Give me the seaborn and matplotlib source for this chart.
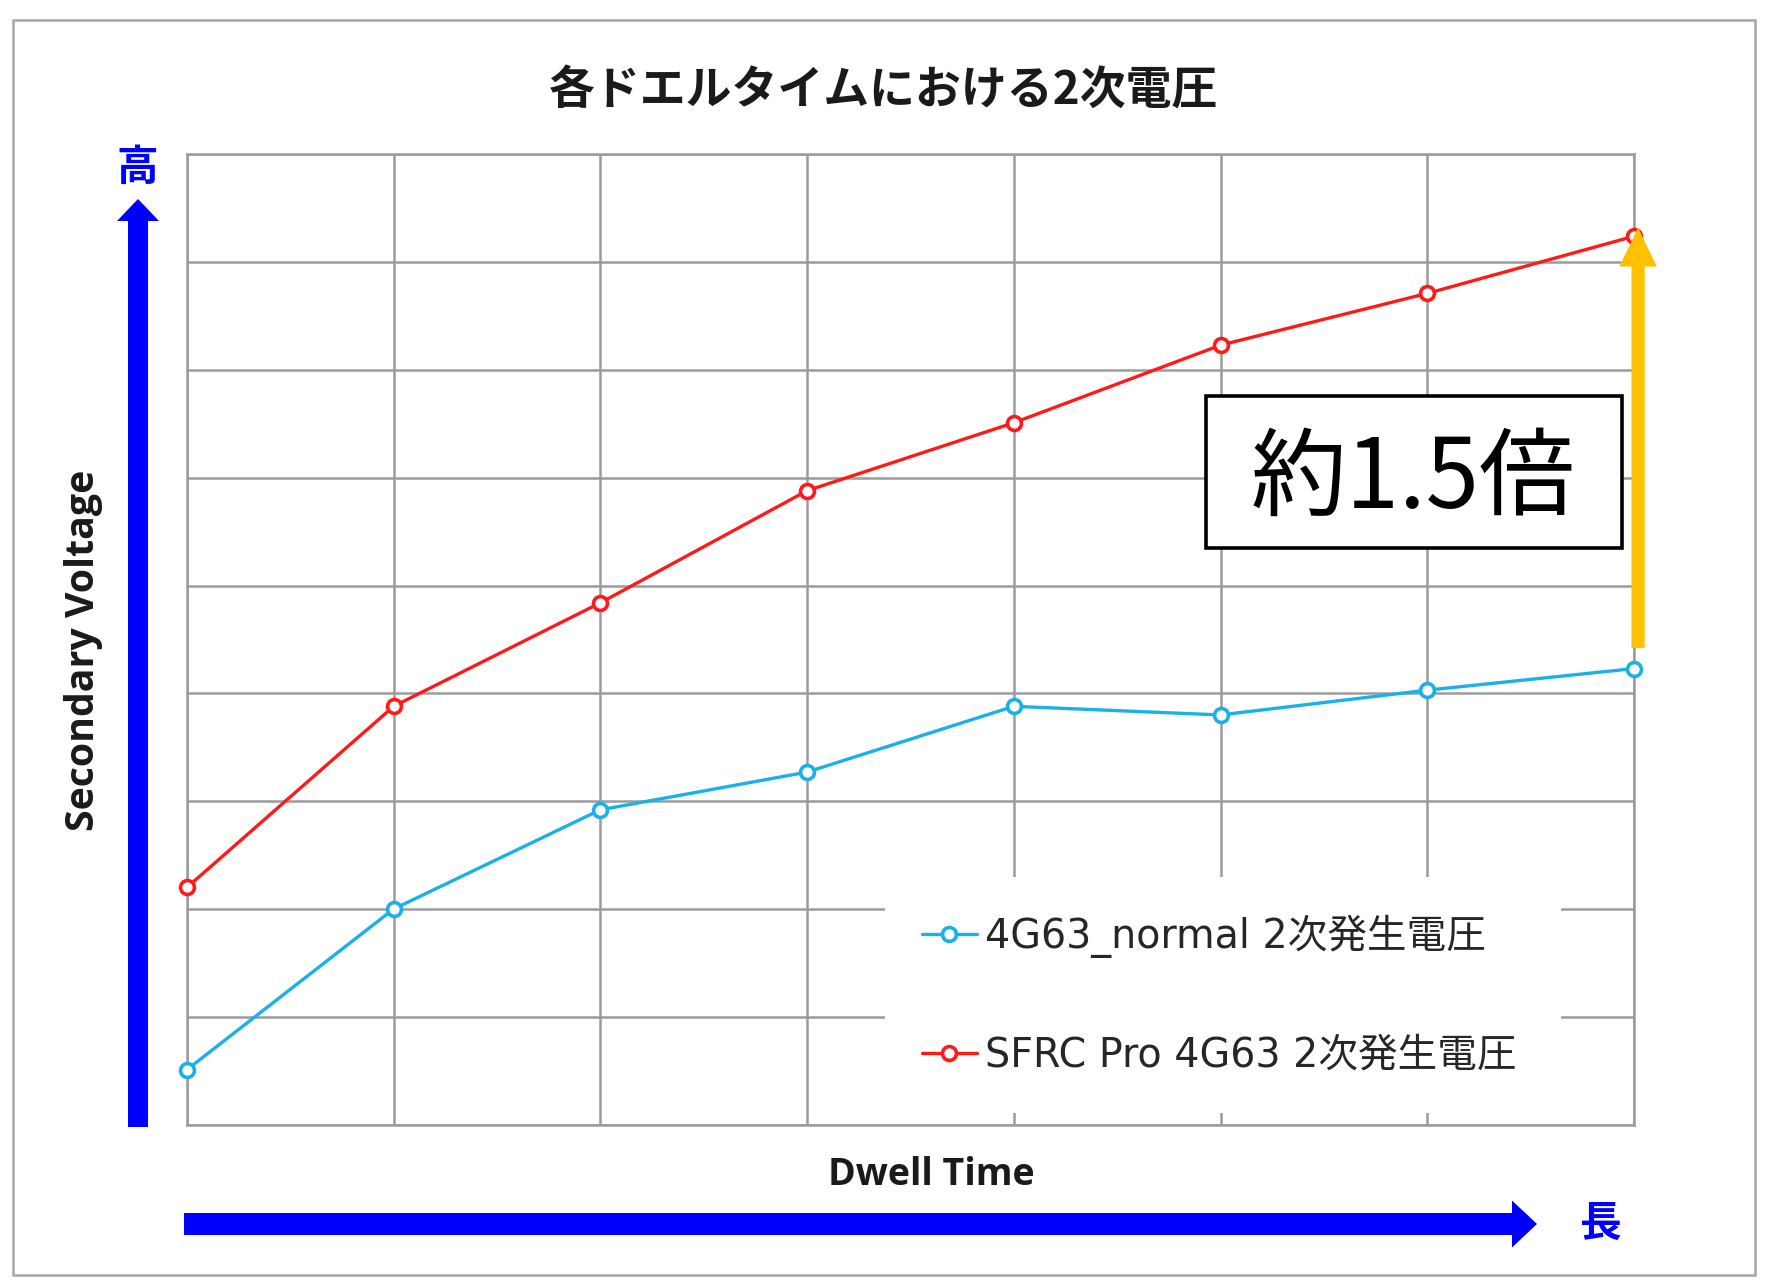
import numpy as np
import pandas as pd
import matplotlib
matplotlib.use("Agg")
import matplotlib.pyplot as plt
import seaborn as sns
from matplotlib.patches import Rectangle, FancyArrow
from matplotlib.font_manager import FontProperties

# ---------------- data ----------------
dwell_steps = [0, 1, 2, 3, 4, 5, 6, 7]
series_names = ["4G63_normal 2次発生電圧", "SFRC Pro 4G63 2次発生電圧"]
normal_voltage = [0.51, 2.00, 2.92, 3.27, 3.88, 3.80, 4.03, 4.23]
sfrc_voltage = [2.20, 3.88, 4.84, 5.88, 6.51, 7.23, 7.71, 8.24]
series_colors = ["#1AB0E8", "#FF1A1A"]

title_text = "各ドエルタイムにおける2次電圧"
x_label = "Dwell Time"
y_label = "Secondary Voltage"
note_text = "約1.5倍"
high_text = "高"
long_text = "長"

df = pd.DataFrame({
    "dwell": dwell_steps * 2,
    "voltage": normal_voltage + sfrc_voltage,
    "series": [series_names[0]] * len(dwell_steps) + [series_names[1]] * len(dwell_steps),
})

# ---------------- style ----------------
sns.set_theme(style="whitegrid")
plt.rcParams["font.family"] = ["Noto Sans CJK JP", "DejaVu Sans"]
grid_gray = "#9C9C9C"

fig = plt.figure(figsize=(17.67, 12.85), dpi=100)
fig.patch.set_facecolor("white")

# outer frame
fig.patches.append(Rectangle((0.0076, 0.0078), 0.9856, 0.9767, transform=fig.transFigure,
                             fill=False, edgecolor="#A6A6A6", linewidth=1.8, zorder=0))

ax = fig.add_axes([0.1058, 0.1248, 0.8189, 0.7551])
ax.set_facecolor("white")

sns.lineplot(data=df, x="dwell", y="voltage", hue="series", hue_order=series_names,
             palette=series_colors, marker="o", markersize=10, linewidth=2.4,
             legend=False, ax=ax, errorbar=None)
for ln in ax.lines:
    c = ln.get_color()
    ln.set_markeredgecolor(c)
    ln.set_markerfacecolor("white")
    ln.set_markeredgewidth(2.6)
    ln.set_clip_on(False)
    ln.set_zorder(4)

ax.set_xlim(dwell_steps[0], dwell_steps[-1])
ax.set_ylim(0, 9)
ax.set_xticks(dwell_steps)
ax.set_yticks(np.arange(0, 10))
ax.set_xticklabels([])
ax.set_yticklabels([])
ax.tick_params(length=0)
ax.set_xlabel("")
ax.set_ylabel("")
ax.grid(True, color=grid_gray, linewidth=1.8)
for sp in ax.spines.values():
    sp.set_visible(True)
    sp.set_color(grid_gray)
    sp.set_linewidth(1.8)

# white area behind legend (gridlines visible only as short ticks at the bottom)
ax.add_patch(Rectangle((0.4824, 0.0125), 0.4672, 0.2428, transform=ax.transAxes,
                       facecolor="white", edgecolor="none", zorder=1))

leg_font = FontProperties(family=["DejaVu Sans", "Noto Sans CJK JP"], size=28.5)
ax.legend(handles=ax.lines[:2], labels=series_names, loc="center left",
          bbox_to_anchor=(0.508, 0.1333), frameon=False, borderpad=0, borderaxespad=0,
          handlelength=1.38, handletextpad=0.2, labelspacing=1.97, prop=leg_font)

# annotation box
ax.add_patch(Rectangle((0.7042, 0.5943), 0.2875, 0.1567, transform=ax.transAxes,
                       facecolor="white", edgecolor="black", linewidth=2.6, zorder=5))
ax.text(0.8475, 0.664, note_text, transform=ax.transAxes, ha="center", va="center",
        fontsize=69, family=["Noto Sans CJK JP"], color="black", zorder=6)

# yellow arrow between the last points
ax.annotate("", xy=(dwell_steps[-1] + 0.02, sfrc_voltage[-1] + 0.08),
            xytext=(dwell_steps[-1] + 0.02, normal_voltage[-1] + 0.19),
            arrowprops=dict(arrowstyle="simple,head_length=2.8,head_width=2.7,tail_width=0.95",
                            mutation_scale=10, color="#FFC000", shrinkA=0, shrinkB=0,
                            linewidth=0),
            annotation_clip=False, zorder=6)

# titles and labels
fig.text(0.5, 0.9285, title_text, ha="center", va="center", fontsize=33,
         fontweight="bold", family=["Noto Sans CJK JP"], color="#1A1A1A")
fig.text(0.527, 0.0778, x_label, ha="center", va="baseline", fontsize=27,
         fontweight="bold", family=["Open Sans", "DejaVu Sans"], color="#1A1A1A")
fig.text(0.0473, 0.494, y_label, ha="center", va="center", rotation=90, fontsize=28.3,
         fontweight="bold", family=["Open Sans", "DejaVu Sans"], color="#1A1A1A")

# blue direction arrows (in inches)
blue = "#0000FF"
fig.patches.append(FancyArrow(1.38, 1.58, 0, 10.86 - 1.58, width=0.20, head_width=0.42,
                              head_length=0.22, length_includes_head=True,
                              transform=fig.dpi_scale_trans, color=blue, linewidth=0))
fig.patches.append(FancyArrow(1.84, 0.61, 15.37 - 1.84, 0, width=0.22, head_width=0.47,
                              head_length=0.25, length_includes_head=True,
                              transform=fig.dpi_scale_trans, color=blue, linewidth=0))
fig.text(0.0775, 0.8695, high_text, ha="center", va="center", fontsize=30,
         fontweight="bold", family=["Noto Sans CJK JP"], color=blue)
fig.text(0.9055, 0.0475, long_text, ha="center", va="center", fontsize=30,
         fontweight="bold", family=["Noto Sans CJK JP"], color=blue)

fig.savefig("out.png", dpi=100, facecolor="white")
